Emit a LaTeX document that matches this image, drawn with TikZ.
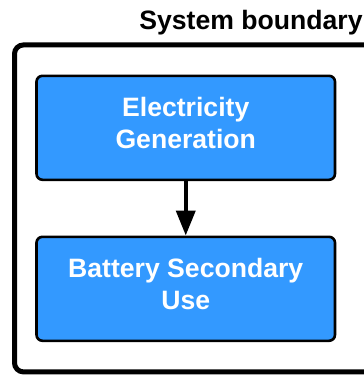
\documentclass[tikz,border=0pt]{standalone}
\usepackage{fontspec}
\setmainfont{Liberation Sans}
\usepackage{tikz}
\usetikzlibrary{arrows.meta,positioning}
\definecolor{stageblue}{HTML}{3399FF}

\begin{document}
\begin{tikzpicture}[
  x=1pt, y=-1pt,
  font=\bfseries\fontsize{26.6}{32}\selectfont,
  blk/.style={draw=black, fill=stageblue, text=white, rounded corners=6pt, line width=2.6pt, minimum width=298.5pt, minimum height=104pt, align=center, inner sep=0pt, text height=52pt, text depth=11.5pt},
  bnd/.style={draw=black, rounded corners=9pt, line width=5pt, minimum width=473pt, minimum height=327pt, inner sep=0pt},
  ttl/.style={font=\bfseries\fontsize{26.6}{30}\selectfont, anchor=base},
  flow/.style={-{Triangle[length=25pt, width=19pt]}, draw=black, line width=4pt},
]
\useasboundingbox (0,0) rectangle (364,375);
\clip (0,0) rectangle (364,375);
\node[bnd] (sys) at (251,208.4) {};
\node[ttl] (title) at (251,29.5) {System boundary};
\node[blk] (gen) at (185.75,127.8) {Electricity\\Generation};
\node[blk] (use) at (185.75,288.8) {Battery Secondary\\Use};
\draw[flow] (gen) -- (use);
\end{tikzpicture}
\end{document}
